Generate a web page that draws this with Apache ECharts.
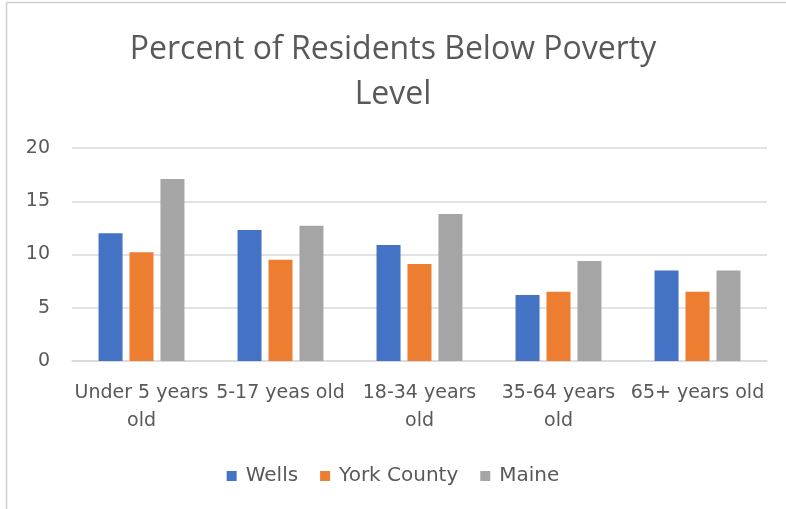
<!DOCTYPE html>
<html><head><meta charset="utf-8">
<script src="https://cdn.jsdelivr.net/npm/echarts@6/dist/echarts.min.js"></script>
<style>html,body{margin:0;padding:0;background:#fff}#c{width:786px;height:509px}</style>
</head><body><div id="c"></div>
<script>
const categories = ['Under 5 years\nold', '5-17 yeas old', '18-34 years\nold', '35-64 years\nold', '65+ years old'];
const wells = [12.0, 12.3, 10.9, 6.2, 8.5];
const york = [10.2, 9.5, 9.1, 6.5, 6.5];
const maine = [17.1, 12.7, 13.8, 9.4, 8.5];
const yTicks = [0, 5, 10, 15, 20];
const font = 'DejaVu Sans';
const chart = echarts.init(document.getElementById('c'));
chart.setOption({
  animation: false,
  textStyle: {fontFamily: font},
  title: {
    text: 'Percent of Residents Below Poverty\nLevel',
    left: 'center', top: 22,
    textStyle: {fontFamily: 'Open Sans', fontSize: 32, fontWeight: 'normal', color: '#595959', lineHeight: 45}
  },
  legend: {
    bottom: 18, left: 'center', itemWidth: 10, itemHeight: 10, itemGap: 22,
    icon: 'rect',
    textStyle: {fontFamily: font, fontSize: 20, color: '#595959', padding: [0, 0, 0, 4]}
  },
  grid: {left: 72, right: 19, top: 148, bottom: 148},
  xAxis: {
    type: 'category', data: categories,
    axisLine: {lineStyle: {color: '#d9d9d9', width: 1.5}},
    axisTick: {show: false},
    axisLabel: {fontFamily: font, fontSize: 19, color: '#595959', lineHeight: 28, margin: 18, interval: 0}
  },
  yAxis: {
    type: 'value', min: yTicks[0], max: yTicks[yTicks.length - 1], interval: 5,
    axisLine: {show: false}, axisTick: {show: false},
    splitLine: {lineStyle: {color: '#d9d9d9', width: 1.5}},
    axisLabel: {fontFamily: font, fontSize: 19, color: '#595959', margin: 22}
  },
  series: [
    {name: 'Wells', type: 'bar', data: wells, barWidth: 24, barGap: '29%', itemStyle: {color: '#4472C4'}},
    {name: 'York County', type: 'bar', data: york, barWidth: 24, barGap: '29%', itemStyle: {color: '#ED7D31'}},
    {name: 'Maine', type: 'bar', data: maine, barWidth: 24, barGap: '29%', itemStyle: {color: '#A5A5A5'}}
  ],
  graphic: [
    {type: 'line', shape: {x1: 6.5, y1: 2.5, x2: 786, y2: 2.5}, style: {stroke: '#d0d0d0', lineWidth: 1.5}},
    {type: 'line', shape: {x1: 6.5, y1: 2.5, x2: 6.5, y2: 509}, style: {stroke: '#d0d0d0', lineWidth: 1.5}}
  ]
});
</script></body></html>
